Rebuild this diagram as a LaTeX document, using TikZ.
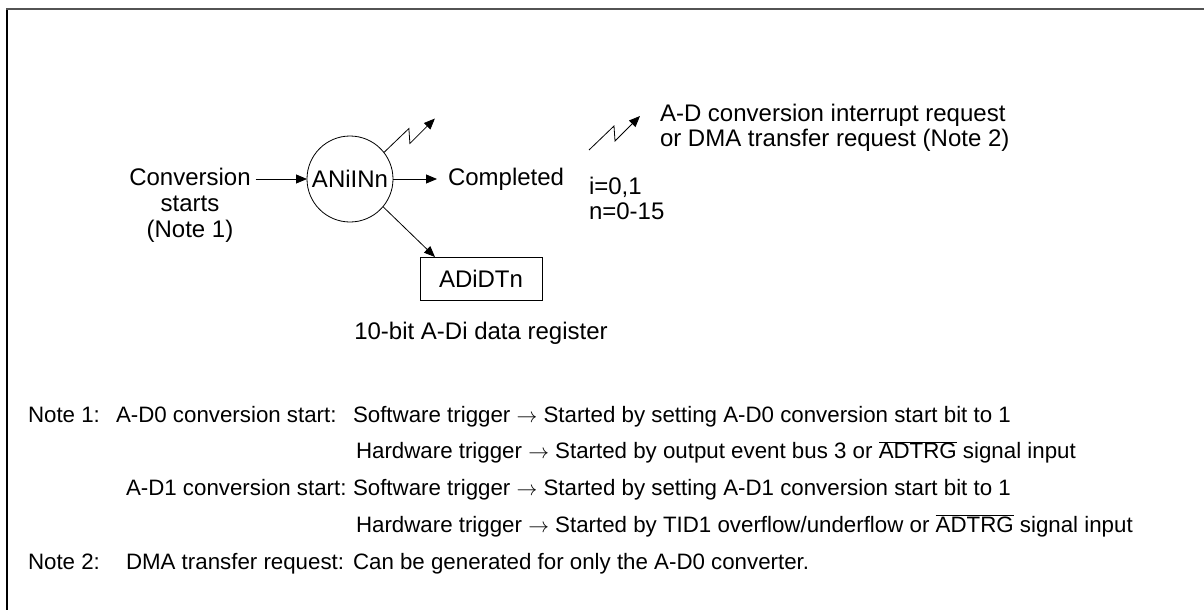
\documentclass[tikz,border=0pt]{standalone}
\usepackage{fontspec}
\setmainfont{Liberation Sans}
\usetikzlibrary{arrows.meta}
\begin{document}
\begin{tikzpicture}[x=1pt,y=-1pt,
  every node/.style={inner sep=0pt,outer sep=0pt},
  lbl/.style={font=\fontsize{24}{25}\selectfont},
  notetxt/.style={font=\fontsize{22.3}{26}\selectfont,anchor=base west},
  arr/.style={-{Triangle[length=11pt,width=9pt]},line width=0.8pt},
  frameline/.style={line width=1.6pt}]
\useasboundingbox (0,0) rectangle (1204,610);
% frame
\draw[frameline,black] (7,610) -- (7,8.2);
\draw[frameline,gray!65!black] (6.2,9) -- (1204,9);
% main diagram
\node[circle,draw,line width=0.8pt,minimum size=86pt,lbl] (c) at (350,179) {ANiINn};
\node[lbl,font=\fontsize{24}{26}\selectfont,align=center,anchor=center] (conv) at (190,205) {Conversion\\starts\\(Note 1)};
\path (conv.east |- c.west) ++(5,0) coordinate (cs);
\draw[arr] (cs) -- (c.west);
\node[lbl,anchor=west] (comp) at (448,179) {Completed};
\draw[arr] (c.east) -- ([xshift=-11pt]comp.west);
\node[draw,line width=0.9pt,lbl,minimum width=122pt,minimum height=43pt] (reg) at (481,278.5) {ADiDTn};
\draw[arr] (c.-40) -- ([xshift=15pt]reg.north west);
\node[lbl] (cap) at (481,333) {10-bit A-Di data register};
\draw[arr] (c.38) -- ++(25,-24) -- ++(1,15) -- ++(25,-25);
% legend
\coordinate (lg) at (589,150);
\draw[arr] (lg) -- ++(25,-24) -- ++(1,15) -- ++(25,-25);
\node[lbl,align=left,anchor=west] (legt) at (660,128) {A-D conversion interrupt request\\or DMA transfer request (Note 2)};
\node[lbl,align=left,anchor=west] (idx) at (589,198) {i=0,1\\n=0-15};
% notes
\node[notetxt] (n1l) at (28,422) {Note 1:};
\node[notetxt] (n1k) at (116,422) {A-D0 conversion start:};
\node[notetxt] (n1v) at (353,422) {Software trigger $\rightarrow$ Started by setting A-D0 conversion start bit to 1};
\node[notetxt] (n2v) at (356,458.75) {Hardware trigger $\rightarrow$ Started by output event bus 3 or $\overline{\mbox{ADTRG}}$ signal input};
\node[notetxt] (n3k) at (126,495.5) {A-D1 conversion start:};
\node[notetxt] (n3v) at (353,495.5) {Software trigger $\rightarrow$ Started by setting A-D1 conversion start bit to 1};
\node[notetxt] (n4v) at (356,532.25) {Hardware trigger $\rightarrow$ Started by TID1 overflow/underflow or $\overline{\mbox{ADTRG}}$ signal input};
\node[notetxt] (n5l) at (28,569) {Note 2:};
\node[notetxt] (n5k) at (126,569) {DMA transfer request:};
\node[notetxt] (n5v) at (353,569) {Can be generated for only the A-D0 converter.};
\end{tikzpicture}
\end{document}
